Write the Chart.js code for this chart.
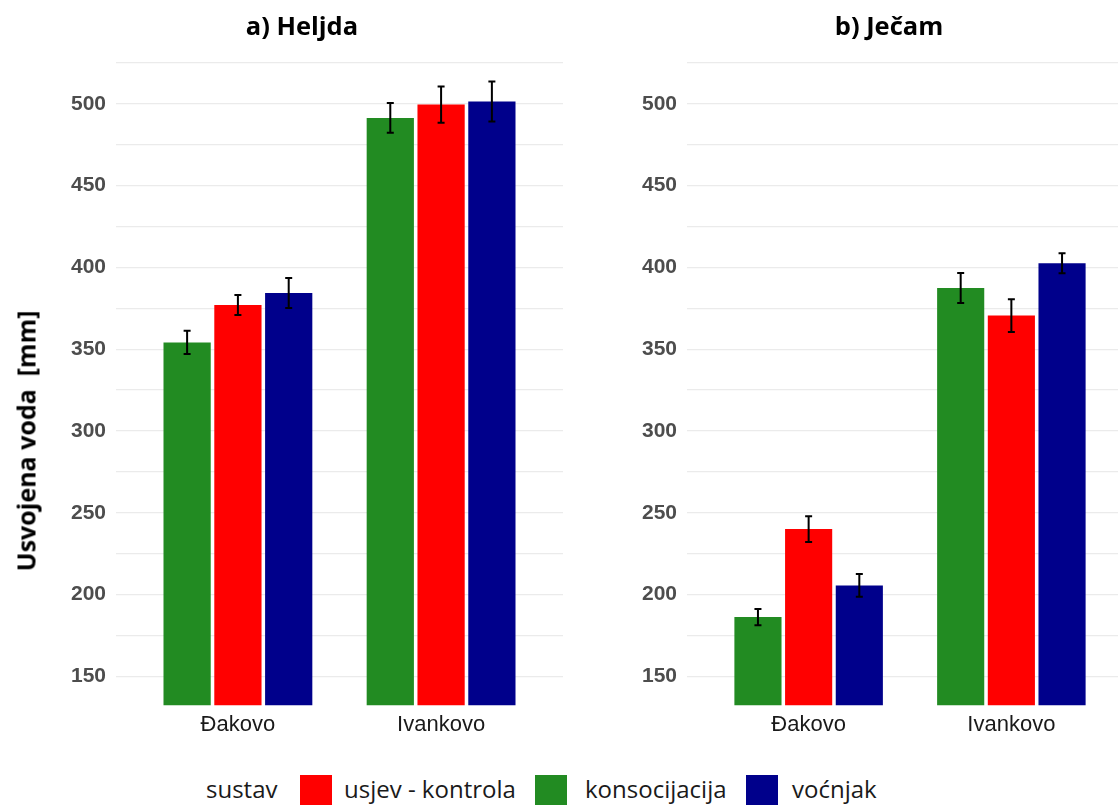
<!DOCTYPE html>
<html>
<head>
<meta charset="utf-8">
<script src="https://cdn.jsdelivr.net/npm/chart.js@4/dist/chart.umd.min.js"></script>
<style>
  html, body { margin: 0; padding: 0; background: #fff; }
  body { width: 1118px; height: 805px; overflow: hidden; position: relative; }
  canvas { position: absolute; top: 0; }
  #cLeft { left: 0; }
  #cRight { left: 620px; }
  .ptitle { position: absolute; top: 13px; width: 300px; text-align: center;
            font: bold 25.5px "Open Sans", sans-serif; line-height: 25px; color: #000; white-space: nowrap; }
  #ytitle { position: absolute; left: 26px; top: 441px; transform: translate(-50%, -50%) rotate(-90deg);
            font: bold 25px "Open Sans", sans-serif; line-height: 25px; color: #000; white-space: pre; }
  .lg { position: absolute; top: 777px; font: 24px "Open Sans", sans-serif; line-height: 24px; color: #1a1a1a; white-space: nowrap; }
  .lbox { position: absolute; top: 775px; width: 32px; height: 32px; }
</style>
</head>
<body>
<canvas id="cLeft" width="600" height="745"></canvas>
<canvas id="cRight" width="538" height="745"></canvas>
<div class="ptitle" style="left:152px;">a) Heljda</div>
<div class="ptitle" style="left:739px;">b) Ječam</div>
<div id="ytitle">Usvojena voda  [mm]</div>
<div class="lg" style="left:206px;">sustav</div>
<div class="lbox" style="left:300px;background:#FF0000;"></div>
<div class="lg" style="left:344px;">usjev - kontrola</div>
<div class="lbox" style="left:535px;background:#228B22;"></div>
<div class="lg" style="left:585px;">konsocijacija</div>
<div class="lbox" style="left:746px;background:#00008B;"></div>
<div class="lg" style="left:792px;">voćnjak</div>
<script>
// ---- data ----
const categories = ['Đakovo', 'Ivankovo'];
const seriesNames = ['konsocijacija', 'usjev - kontrola', 'voćnjak'];
const seriesColors = ['#228B22', '#FF0000', '#00008B'];

const heljdaKonsocijacija = [354.1, 491.3];
const heljdaKontrola      = [377.0, 499.5];
const heljdaVocnjak       = [384.3, 501.4];
const heljdaKonsocijacijaErr = [7.1, 9.1];
const heljdaKontrolaErr      = [6.1, 11.1];
const heljdaVocnjakErr       = [9.2, 12.2];

const jecamKonsocijacija = [186.2, 387.4];
const jecamKontrola      = [240.0, 370.5];
const jecamVocnjak       = [205.6, 402.5];
const jecamKonsocijacijaErr = [5.0, 9.2];
const jecamKontrolaErr      = [7.9, 10.0];
const jecamVocnjakErr       = [7.0, 6.1];

const yTickStep = 25;
const yLabelStep = 50;

// ---- helpers ----
function makeDatasets(values, errors) {
  return values.map((vals, si) => ({
    label: seriesNames[si],
    data: vals.map((v, i) => ({ x: i + 1, y: v })),
    errors: errors[si],
    backgroundColor: seriesColors[si],
    borderWidth: 0,
    categoryPercentage: 0.75,
    barPercentage: 0.93
  }));
}

const errorBarPlugin = {
  id: 'errorBars',
  afterDatasetsDraw(chart) {
    const ctx = chart.ctx;
    const yS = chart.scales.y;
    ctx.save();
    ctx.strokeStyle = '#000';
    ctx.lineWidth = 2;
    chart.data.datasets.forEach((ds, di) => {
      const meta = chart.getDatasetMeta(di);
      meta.data.forEach((bar, j) => {
        const v = ds.data[j].y, e = ds.errors[j];
        const yT = yS.getPixelForValue(v + e);
        const yB = yS.getPixelForValue(v - e);
        const x = bar.x, w = 3.5;
        ctx.beginPath();
        ctx.moveTo(x, yT); ctx.lineTo(x, yB);
        ctx.moveTo(x - w, yT); ctx.lineTo(x + w, yT);
        ctx.moveTo(x - w, yB); ctx.lineTo(x + w, yB);
        ctx.stroke();
      });
    });
    ctx.restore();
  }
};

function makeChart(id, datasets, yAxisWidth, padRight) {
  return new Chart(document.getElementById(id), {
    type: 'bar',
    data: { datasets },
    plugins: [errorBarPlugin],
    options: {
      responsive: false,
      animation: false,
      layout: { padding: { top: 61.2, right: padRight, left: 0, bottom: 0 } },
      plugins: { legend: { display: false }, title: { display: false }, tooltip: { enabled: false } },
      scales: {
        x: {
          type: 'linear',
          min: 0.4, max: 2.6,
          offset: false,
          grid: { display: false, drawTicks: false },
          border: { display: false },
          ticks: {
            stepSize: 1, includeBounds: false, autoSkip: false, maxRotation: 0,
            padding: 6,
            color: '#1a1a1a',
            font: { family: '"Liberation Sans", Arial, sans-serif', size: 22 },
            callback: (v) => categories[Math.round(v) - 1] ?? ''
          },
          afterFit: (s) => { s.height = 745 - 705.3; }
        },
        y: {
          min: 132.3, max: 526,
          grid: { color: '#ebebeb', lineWidth: 1.2, drawTicks: false },
          border: { display: false },
          ticks: {
            stepSize: yTickStep, includeBounds: false, padding: 10,
            color: '#4d4d4d',
            font: { family: '"Liberation Sans", Arial, sans-serif', size: 21, weight: 'bold' },
            callback: (v) => (v % yLabelStep === 0 ? String(v) : '')
          },
          afterFit: (s) => { s.width = yAxisWidth; }
        }
      }
    }
  });
}

makeChart('cLeft',
  makeDatasets([heljdaKonsocijacija, heljdaKontrola, heljdaVocnjak],
               [heljdaKonsocijacijaErr, heljdaKontrolaErr, heljdaVocnjakErr]),
  116, 37);
makeChart('cRight',
  makeDatasets([jecamKonsocijacija, jecamKontrola, jecamVocnjak],
               [jecamKonsocijacijaErr, jecamKontrolaErr, jecamVocnjakErr]),
  67, 25);
</script>
</body>
</html>
